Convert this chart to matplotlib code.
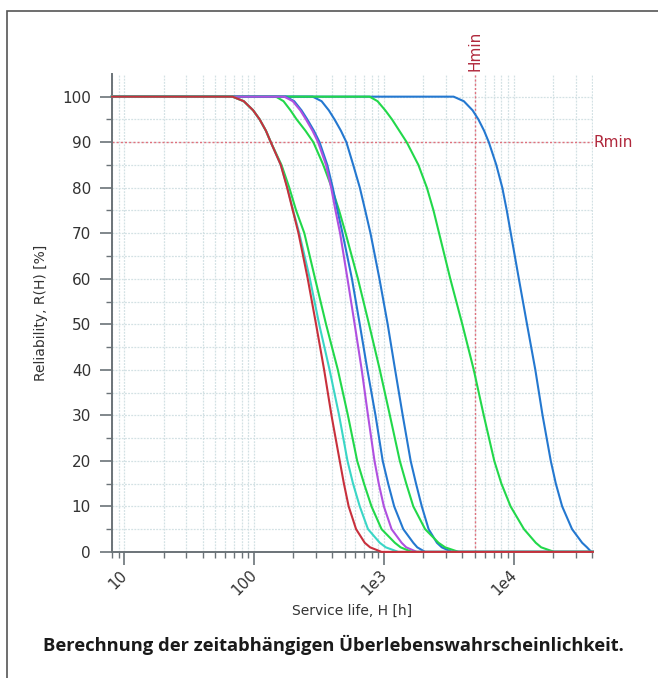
import numpy as np
import matplotlib
matplotlib.use("Agg")
import matplotlib.pyplot as plt
from matplotlib.patches import Rectangle
from matplotlib.ticker import LogLocator, FixedLocator, NullFormatter

r_levels = [100, 99, 97, 95, 92.5, 90, 85, 80, 75, 70, 60, 50, 40, 30, 20, 15, 10, 5, 2, 1, 0]

# service life [h] of each curve at the levels above
h_red    = [68, 83, 98, 110, 123, 134, 160, 179, 198, 219, 258, 299, 345, 393, 455, 490, 533, 608, 709, 780, 955]
h_cyan   = [68, 83, 98, 110, 123, 134, 160, 180, 199, 222, 268, 316, 380, 450, 522, 576, 649, 751, 926, 1030, 1284]
h_green1 = [68, 83, 98, 110, 123, 134, 162, 186, 210, 243, 294, 357, 440, 526, 620, 700, 799, 955, 1210, 1340, 1631]
h_purple = [170, 198, 226, 250, 281, 310, 357, 391, 422, 458, 522, 593, 672, 751, 843, 909, 995, 1141, 1364, 1480, 1783]
h_blue2  = [175, 203, 231, 256, 288, 318, 365, 402, 437, 478, 565, 649, 743, 858, 975, 1074, 1195, 1404, 1677, 1800, 2068]
h_green2 = [147, 168, 190, 212, 248, 285, 340, 395, 450, 505, 628, 765, 926, 1107, 1320, 1480, 1677, 2068, 2623, 2950, 3748]
h_blue3  = [282, 330, 375, 415, 465, 512, 578, 650, 715, 785, 920, 1065, 1215, 1390, 1600, 1760, 1950, 2200, 2550, 2780, 3330]
h_green3 = [774, 890, 1020, 1150, 1310, 1492, 1836, 2135, 2400, 2650, 3231, 4000, 4900, 5850, 7050, 8000, 9413, 11940, 14720, 16200, 20400]
h_blue4  = [3430, 4110, 4800, 5320, 5890, 6400, 7310, 8130, 8800, 9450, 10900, 12600, 14600, 16600, 19200, 21000, 23500, 28000, 33500, 36500, 39400]

h_min = 5000
r_min = 90

tick_vals = [10, 100, 1e3, 1e4]
tick_labels = ["10", "100", "1e3", "1e4"]

RED = "#c8303c"
CYAN = "#3ad6c6"
GREEN = "#22d84a"
PURPLE = "#b050e0"
BLUE = "#2478d0"

# bottom to top, so the overlaps look like the original
curves = [
    (h_blue4, BLUE),
    (h_blue3, BLUE),
    (h_green3, GREEN),
    (h_green2, GREEN),
    (h_blue2, BLUE),
    (h_purple, PURPLE),
    (h_green1, GREEN),
    (h_cyan, CYAN),
    (h_red, RED),
]

xlim = (8.0, 40500)
ylim = (0, 105)

fig = plt.figure(figsize=(6.58, 6.78), dpi=100)
ax = fig.add_axes([0.170, 0.186, 0.731, 0.705])

grid_kw = dict(color="#d3e1e4", linewidth=0.9, linestyle=(0, (1.5, 1)))
ax.set_xscale("log")
ax.set_xlim(*xlim)
ax.set_ylim(*ylim)

for h, c in curves:
    x = [xlim[0]] + h + [xlim[1]]
    y = [100] + r_levels + [0]
    ax.plot(x, y, color=c, linewidth=1.5, solid_joinstyle="round", zorder=3, clip_on=False)

ax.axhline(r_min, color="#e0707c", linewidth=1.0, linestyle=(0, (1.5, 1.5)), zorder=2)
ax.axvline(h_min, color="#e0707c", linewidth=1.0, linestyle=(0, (1.5, 1.5)), zorder=2)

ax.text(xlim[1] * 1.01, r_min, "Rmin", color="#b0283c", fontsize=11, va="center", ha="left")
ax.text(h_min, ylim[1] + 0.6, "Hmin", color="#b0283c", fontsize=11, rotation=90,
        va="bottom", ha="center")

ax.xaxis.set_major_locator(FixedLocator(tick_vals))
ax.xaxis.set_minor_locator(LogLocator(base=10, subs=np.arange(2, 10)))
ax.xaxis.set_minor_formatter(NullFormatter())
ax.set_xticklabels(tick_labels, rotation=45, ha="right", va="center", rotation_mode="anchor")
ax.set_yticks(np.arange(0, 101, 10))
ax.set_yticks(np.arange(5, 101, 10), minor=True)

ax.grid(True, which="both", **grid_kw)
ax.set_axisbelow(True)

for s in ["top", "right"]:
    ax.spines[s].set_visible(False)
for s in ["left", "bottom"]:
    ax.spines[s].set_color("#6b7378")
    ax.spines[s].set_linewidth(1.4)

ax.tick_params(which="major", length=9, width=1.2, color="#6b7378", labelsize=11,
               labelcolor="#333333", pad=6)
ax.tick_params(which="minor", length=4.5, width=1.0, color="#6b7378")

ax.set_xlabel("Service life, H [h]", fontsize=10, color="#333333", labelpad=4)
ax.set_ylabel("Reliability, R(H) [%]", fontsize=10, color="#333333", labelpad=10)

# frame around the figure (only left and top edges fall inside the image)
fig.patches.append(Rectangle((6.5 / 658, -0.05), 1.2, 1 - 11 / 678 + 0.05,
                             transform=fig.transFigure, fill=False,
                             edgecolor="#555555", linewidth=1.2))

fig.text(0.506, 1 - 645 / 678, "Berechnung der zeitabhängigen Überlebenswahrscheinlichkeit.",
         ha="center", va="center", fontsize=13.2, fontweight="bold",
         family="Open Sans", color="#1a1a1a")

fig.savefig("out.png", dpi=100)
